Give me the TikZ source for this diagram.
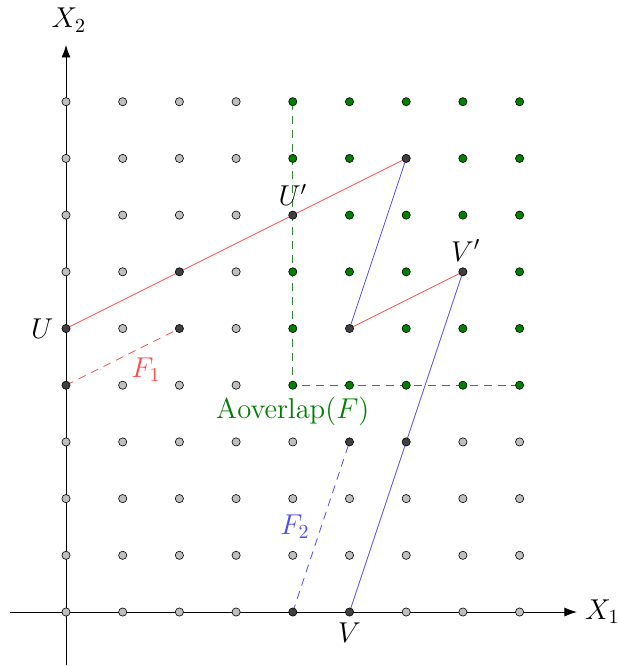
\documentclass[tikz,border=0pt]{standalone}
\usetikzlibrary{arrows.meta}
\begin{document}
\begin{tikzpicture}[x=1cm,y=1cm,font=\fontsize{14.4}{17}\selectfont,
  dot/.style={circle,draw=black,line width=0.3pt,inner sep=0pt,minimum size=0.145cm},
  graydot/.style={dot,fill=black!25},
  greendot/.style={dot,fill=green!50!black},
  darkdot/.style={dot,fill=black!75},
  redline/.style={red!70,line width=0.4pt},
  blueline/.style={blue!70,line width=0.4pt},
  greenline/.style={green!40!black!80,dashed,dash pattern=on 4pt off 3pt,line width=0.4pt},
  axis/.style={-{Latex[length=2.2mm,width=1.6mm]},line width=0.4pt}]
\useasboundingbox (-1.164,-0.952) rectangle (9.753,10.794);
% coordinates
\foreach \i in {0,...,8}{\foreach \j in {0,...,9}{\coordinate (c-\i-\j) at (\i,\j);}}
\coordinate (xa) at (-0.99,0);
\coordinate (xb) at (9.01,0);
\coordinate (ya) at (0,-0.94);
\coordinate (yb) at (0,10.0);
% axes
\draw[axis] (xa) -- (xb);
\draw[axis] (ya) -- (yb);
\node[inner sep=1pt] (X1) at (9.46,0) {$X_1$};
\node (X2) at (0.05,10.44) {$X_2$};
% green dashed region
\draw[greenline] (c-4-9) -- (c-4-4) -- (c-8-4);
% lines
\draw[redline] (c-0-5) -- (c-6-8);
\draw[redline] (c-5-5) -- (c-7-6);
\draw[blueline] (c-6-8) -- (c-5-5);
\draw[blueline] (c-5-0) -- (c-7-6);
\draw[redline,dashed,dash pattern=on 4pt off 3pt] (c-0-4) -- (c-2-5);
\draw[blueline,dashed,dash pattern=on 4pt off 3pt] (c-4-0) -- (c-5-3);
% dots
\foreach \i in {0,...,8}{\foreach \j in {0,...,9}{
  \pgfmathtruncatemacro\dk{(\i==0&&\j==5)||(\i==0&&\j==4)||(\i==2&&\j==6)||(\i==2&&\j==5)||(\i==4&&\j==7)||(\i==6&&\j==8)||(\i==5&&\j==5)||(\i==7&&\j==6)||(\i==5&&\j==3)||(\i==6&&\j==3)||(\i==4&&\j==0)||(\i==5&&\j==0)}
  \pgfmathtruncatemacro\gr{(\i>3)&&(\j>3)}
  \ifnum\dk=1
    \node[darkdot] (p-\i-\j) at (c-\i-\j) {};
  \else\ifnum\gr=1
    \node[greendot] (p-\i-\j) at (c-\i-\j) {};
  \else
    \node[graydot] (p-\i-\j) at (c-\i-\j) {};
  \fi\fi
}}
% labels
\node (U) at (-0.42,5.0) {$U$};
\node (Up) at (4.0,7.36) {$U'$};
\node (Vp) at (7.05,6.38) {$V'$};
\node (V) at (5.0,-0.37) {$V$};
\node[red!70] (F1) at (1.41,4.27) {$F_1$};
\node[blue!70] (F2) at (4.04,1.5) {$F_2$};
\node[green!50!black] (AO) at (4.0,3.54) {$\mathrm{Aoverlap}(F)$};
\end{tikzpicture}
\end{document}
